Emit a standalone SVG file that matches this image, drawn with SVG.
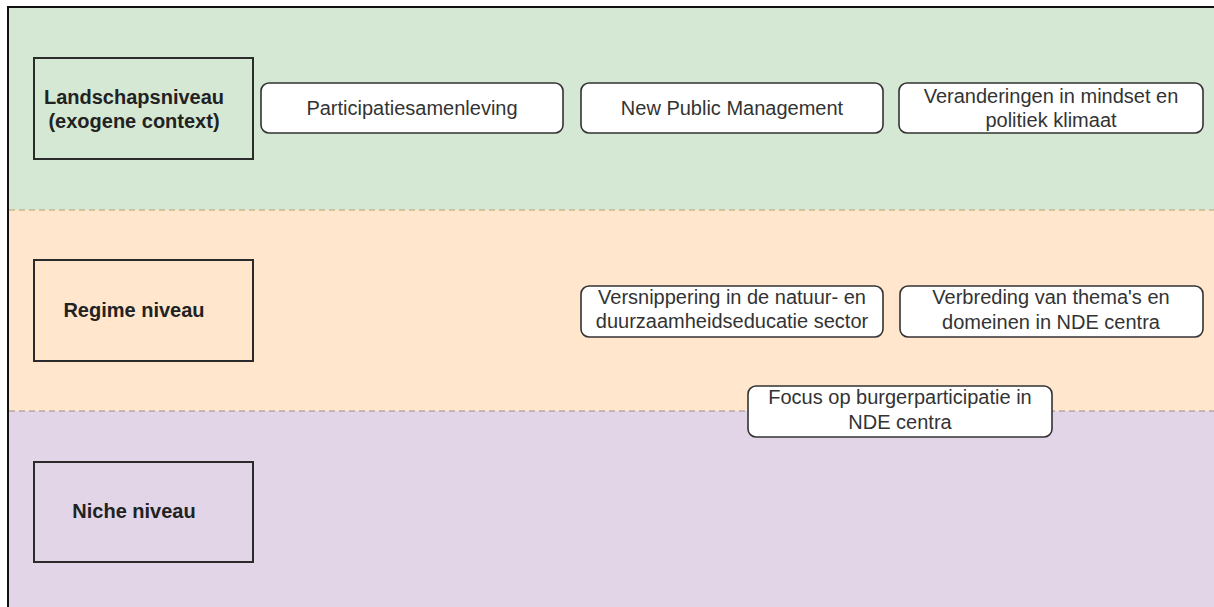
<svg xmlns="http://www.w3.org/2000/svg" width="1214" height="607" viewBox="0 0 1214 607">
<style>
.lvl{fill:none;stroke:#2b2b2b;stroke-width:2}
.card{fill:#ffffff;stroke:#333333;stroke-width:1.6}
.lt{font-family:"Liberation Sans",Arial,sans-serif;font-size:20px;font-weight:bold;fill:#222;text-anchor:middle}
.ct{font-family:"Liberation Sans",Arial,sans-serif;font-size:20px;fill:#333;text-anchor:middle}
.dash{stroke-width:1.2;stroke-dasharray:6 4;fill:none}
</style>
<rect x="0" y="0" width="1214" height="607" fill="#ffffff"/>
<g id="bands">
<rect x="8" y="8" width="1206" height="202" fill="#d5e8d4"/>
<rect x="8" y="210" width="1206" height="201" fill="#ffe6cc"/>
<rect x="8" y="411" width="1206" height="196" fill="#e1d5e7"/>
<line class="dash" x1="9" y1="210" x2="1214" y2="210" stroke="#b9a070"/>
<line class="dash" x1="9" y1="411" x2="1214" y2="411" stroke="#9c8a8c"/>
<path d="M8 607 V7 H1214" fill="none" stroke="#111" stroke-width="2"/>
</g>
<g id="landschap">
<rect class="lvl" x="34" y="58" width="219" height="101"/>
<text class="lt" x="134" y="104">Landschapsniveau</text>
<text class="lt" x="134" y="128">(exogene context)</text>
</g>
<g id="regime">
<rect class="lvl" x="34" y="260" width="219" height="101"/>
<text class="lt" x="134" y="317">Regime niveau</text>
</g>
<g id="niche">
<rect class="lvl" x="34" y="462" width="219" height="100"/>
<text class="lt" x="134" y="518">Niche niveau</text>
</g>
<g id="participatiesamenleving">
<rect class="card" x="261" y="83" width="302" height="50" rx="8"/>
<text class="ct" x="412" y="115">Participatiesamenleving</text>
</g>
<g id="npm">
<rect class="card" x="581" y="83" width="302" height="50" rx="8"/>
<text class="ct" x="732" y="115">New Public Management</text>
</g>
<g id="veranderingen">
<rect class="card" x="899" y="83" width="304" height="50" rx="8"/>
<text class="ct" x="1051" y="103">Veranderingen in mindset en</text>
<text class="ct" x="1051" y="127">politiek klimaat</text>
</g>
<g id="versnippering">
<rect class="card" x="581" y="286" width="302" height="51" rx="8"/>
<text class="ct" x="732" y="304">Versnippering in de natuur- en</text>
<text class="ct" x="732" y="328">duurzaamheidseducatie sector</text>
</g>
<g id="verbreding">
<rect class="card" x="900" y="286" width="303" height="51" rx="8"/>
<text class="ct" x="1051" y="304">Verbreding van thema's en</text>
<text class="ct" x="1051" y="329">domeinen in NDE centra</text>
</g>
<g id="focus">
<rect class="card" x="748" y="386" width="304" height="51" rx="8"/>
<text class="ct" x="900" y="404">Focus op burgerparticipatie in</text>
<text class="ct" x="900" y="429">NDE centra</text>
</g>
<g id="connectors"></g>
</svg>
